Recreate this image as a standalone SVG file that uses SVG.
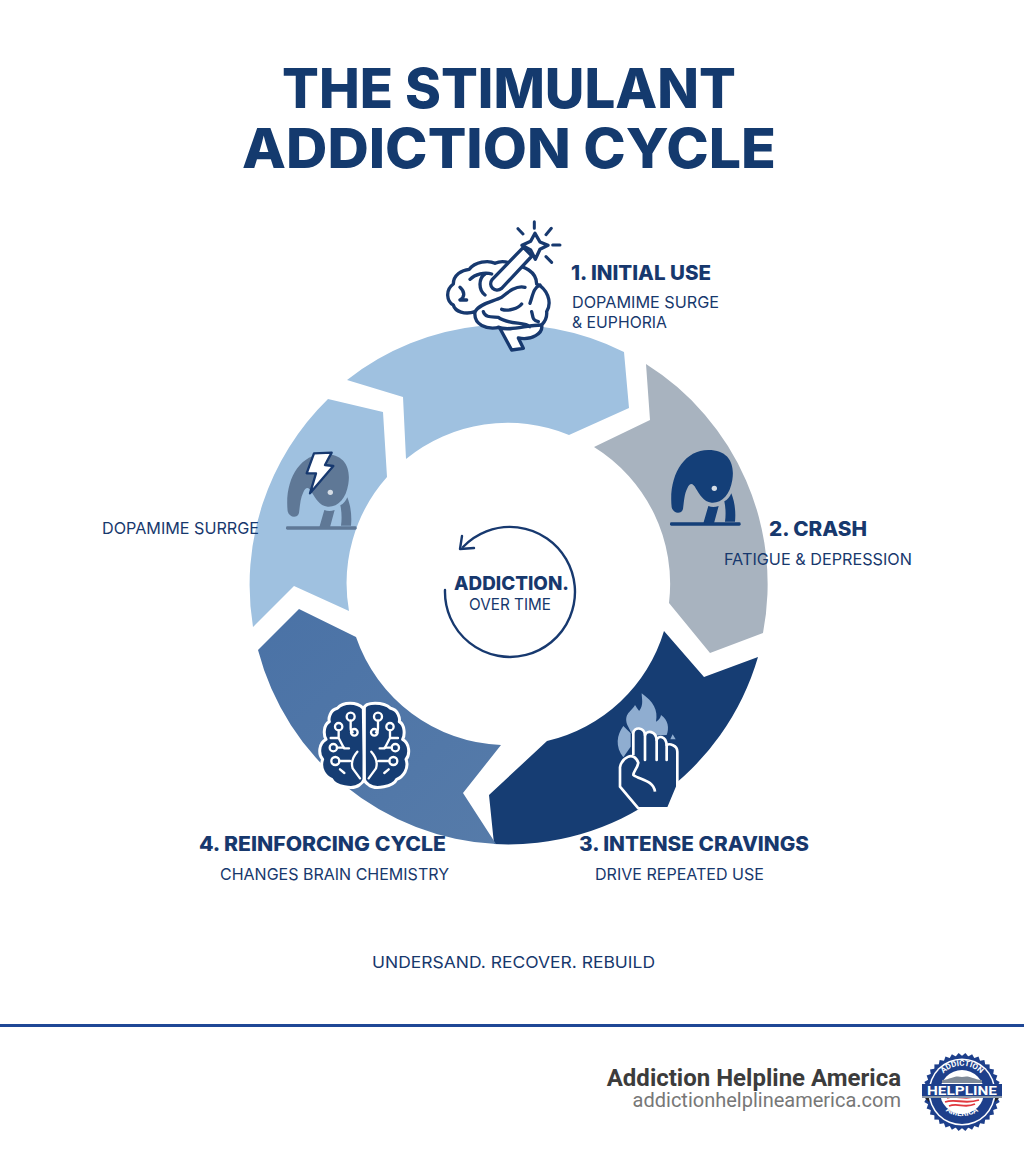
<svg xmlns="http://www.w3.org/2000/svg" xmlns:xlink="http://www.w3.org/1999/xlink" width="1024" height="1154" viewBox="0 0 1024 1154">
<style>
text{font-family:"Inter","Liberation Sans",sans-serif;fill:#17386d}
.t{font-size:55px;font-weight:800;fill:#143a6e}
.h{font-size:20px;font-weight:800}
.s{font-size:16.5px;font-weight:400}
.ln{fill:none;stroke:#17396f;stroke-linecap:round;stroke-linejoin:round}
.wl{fill:none;stroke:#fff;stroke-width:8;stroke-linecap:round;stroke-linejoin:round}
.f{font-family:"Roboto","Liberation Sans",sans-serif}
</style>
<defs>
<linearGradient id="g4" x1="0" y1="0" x2="1" y2="1"><stop offset="0" stop-color="#4a72a6"/><stop offset="1" stop-color="#567ba9"/></linearGradient>
<rect id="sq" x="-27.6" y="-27.6" width="55.2" height="55.2"/>
<g id="ele">
<path d="M95 232C85 140 130 60 205 60C265 60 285 100 277 150C270 195 245 220 215 218C190 215 178 192 168 176C158 158 150 158 142 175C133 192 132 215 129 237C124 254 100 252 95 232Z"/>
<path d="M205 228C215 232 225 232 236 228L222 280H190ZM253 214C262 210 270 200 274 190C284 215 288 245 285 275H255C258 255 257 232 253 214Z"/>
<rect x="90" y="277" width="212" height="10" rx="4"/>
</g>
<g id="cir">
<circle cx="152" cy="110" r="12"/><path d="M152 122V145Q152 155 158 157"/><circle cx="163" cy="157" r="10"/>
<circle cx="116" cy="140" r="11"/><path d="M116 151V174H92M116 174L132 205H147"/><circle cx="100" cy="203" r="11"/><path d="M111 203H132"/>
<circle cx="106" cy="243" r="12"/><path d="M118 243H150M172 215Q150 240 158 265L180 295M120 268L133 279"/>
</g>
</defs>
<rect width="1024" height="1154" fill="#fff"/>
<g id="title">
<text class="t" x="282" y="108" textLength="454" lengthAdjust="spacingAndGlyphs">THE STIMULANT</text>
<text class="t" x="242" y="168" textLength="534" lengthAdjust="spacingAndGlyphs">ADDICTION CYCLE</text>
</g>
<g id="connectors">
<path id="seg1" fill="#9fc1e0" d="M347 380A260 260 0 0 1 624 352L629 408L569 435A161 161 0 0 0 406 459L403 397Z"/>
<path id="seg2" fill="#a8b3bf" d="M646 364A260 260 0 0 1 763 633L710 653L669 603A161 161 0 0 0 594 447L650 420Z"/>
<path id="seg3" fill="#163d73" d="M664 631L704 677L758 657A260 260 0 0 1 494 844L489 795L547 741A160 160 0 0 0 664 631Z"/>
<path id="seg4" fill="url(#g4)" d="M258 650L299 609L356 637A160 160 0 0 0 501 745L463 793L496 844A260 260 0 0 1 258 650Z"/>
<path id="seg5" fill="#9fc1e0" d="M328 399L383 412L387 477A160 160 0 0 0 349 611L294 586L253 627A260 260 0 0 1 328 399Z"/>
</g>
<g id="node1">
<g transform="translate(430 210) scale(.3333)">
<path fill="#fff" stroke="#17396f" stroke-width="10" stroke-linejoin="round" d="M135 305C105 315 75 305 70 285C50 275 45 240 70 222C70 195 95 180 118 178C135 155 175 150 195 160C215 150 240 155 250 168C280 165 320 185 320 222C350 235 368 275 350 305C352 325 340 340 335 345C340 370 305 392 265 384L280 415L245 420L208 352C170 360 130 345 135 305Z"/>
<path class="ln" stroke-width="10" d="M120 208C135 192 165 185 185 192M165 192C145 205 145 240 165 255M90 232C105 245 105 262 90 270H110M135 305C150 280 190 275 215 262C235 245 260 225 285 232M215 298C235 305 265 295 275 282M300 280C310 250 310 235 330 225M305 305C310 320 305 330 325 335M160 305C165 325 190 320 205 322C235 345 285 335 300 350M205 352C240 365 290 345 335 345"/>
<path fill="#fff" stroke="#17396f" stroke-width="10" stroke-linejoin="round" d="M187 208L280 112L306 138L215 235C195 250 172 228 187 208Z"/>
<path fill="#fff" stroke="#17396f" stroke-width="10" stroke-linejoin="round" d="M315 70L330 96L354 106L330 118L316 148L302 120L276 106L302 94Z"/>
<path class="ln" stroke-width="9" d="M313 35V55M264 56L279 72M364 55L348 74M368 105H390M348 140L365 157"/>
</g>
<text class="h" x="571" y="280" textLength="140" lengthAdjust="spacingAndGlyphs">1. INITIAL USE</text>
<text class="s" x="572" y="308" textLength="147" lengthAdjust="spacingAndGlyphs">DOPAMIME SURGE</text>
<text class="s" x="572" y="328" textLength="95" lengthAdjust="spacingAndGlyphs">&amp; EUPHORIA</text>
</g>
<g id="node2">
<g transform="translate(640 430) scale(.3333)" fill="#143f78"><use xlink:href="#ele" href="#ele"/><circle cx="223" cy="175" r="8" fill="#d6dde5"/></g>
<text class="h" x="769" y="536" textLength="98" lengthAdjust="spacingAndGlyphs">2. CRASH</text>
<text class="s" x="724" y="565" textLength="188" lengthAdjust="spacingAndGlyphs">FATIGUE &amp; DEPRESSION</text>
</g>
<g id="node3">
<g transform="translate(600 680) scale(.3333)">
<path fill="#8fadd0" d="M82 135C70 100 95 95 105 75C112 85 118 95 118 92C132 75 125 55 125 40C160 65 175 90 168 125C178 120 182 112 183 105C205 120 208 145 200 165L100 170Z"/>
<path fill="#8fadd0" d="M70 138C50 165 45 200 70 232L92 200V160ZM218 163L227 178H211Z"/>
<path fill="#163d73" stroke="#fff" stroke-width="8" stroke-linejoin="round" d="M100 225V160C102 140 132 140 135 165C140 150 168 152 170 180C175 165 198 168 200 195C208 190 232 195 232 215V320L205 385H115L60 320V262C65 235 100 210 115 248C112 265 100 275 100 285C120 300 160 300 165 335"/>
<path class="wl" d="M135 165V240M170 180V240M200 195V240"/>
</g>
<text class="h" x="579" y="851" textLength="230" lengthAdjust="spacingAndGlyphs">3. INTENSE CRAVINGS</text>
<text class="s" x="595" y="880" textLength="169" lengthAdjust="spacingAndGlyphs">DRIVE REPEATED USE</text>
</g>
<g id="node4">
<g transform="translate(300 680) scale(.3333)">
<path fill="#163d73" stroke="#fff" stroke-width="9" stroke-linejoin="round" d="M190 85C170 65 130 65 112 85C90 90 85 115 88 125C70 135 70 165 78 178C55 190 55 225 68 238C58 265 75 290 95 298C105 320 160 330 178 315C186 310 190 305 192 298V85C196 65 250 65 272 85C295 90 300 115 298 125C315 135 315 165 308 178C330 190 330 225 318 238C328 265 310 290 290 298C280 320 225 330 207 315C198 310 194 305 193 298Z"/>
<path stroke="#fff" stroke-width="8" fill="none" d="M193 82V300"/>
<g fill="none" stroke="#fff" stroke-width="7" stroke-linecap="round" stroke-linejoin="round"><use xlink:href="#cir" href="#cir"/><g transform="translate(386 0) scale(-1 1)"><use xlink:href="#cir" href="#cir"/></g></g>
</g>
<text class="h" x="199" y="851" textLength="247" lengthAdjust="spacingAndGlyphs">4. REINFORCING CYCLE</text>
<text class="s" x="220" y="880" textLength="229" lengthAdjust="spacingAndGlyphs">CHANGES BRAIN CHEMISTRY</text>
</g>
<g id="node5">
<g transform="translate(256 434) scale(.3333)" fill="#5f7896"><use xlink:href="#ele" href="#ele"/><circle cx="223" cy="175" r="8" fill="#d6dde5"/></g>
<g transform="translate(240 430) scale(.3333)"><path fill="#fff" stroke="#17396f" stroke-width="7" stroke-linejoin="round" d="M222 70L275 68L255 105L280 108L210 190L228 130L200 130Z"/></g>
<text class="s" x="102" y="534" textLength="157" lengthAdjust="spacingAndGlyphs">DOPAMIME SURRGE</text>
</g>
<g id="center">
<path class="ln" stroke-width="2.4" d="M445 590A65 65 0 1 0 463 547"/>
<path class="ln" stroke-width="2.4" d="M462 536L460 549L474 548"/>
<text x="454" y="590" font-size="19" font-weight="800" textLength="115" lengthAdjust="spacingAndGlyphs">ADDICTION.</text>
<text x="469" y="610" font-size="16.5" textLength="82" lengthAdjust="spacingAndGlyphs">OVER TIME</text>
</g>
<text id="tagline" class="s" x="372" y="968" textLength="283" lengthAdjust="spacingAndGlyphs">UNDERSAND. RECOVER. REBUILD</text>
<rect id="rule" x="0" y="1024" width="1024" height="3" fill="#1f4796"/>
<g id="footer">
<text class="f" x="901" y="1086" text-anchor="end" font-size="24" font-weight="700" style="fill:#3c3c3c">Addiction Helpline America</text>
<text class="f" x="901" y="1107" text-anchor="end" font-size="20" style="fill:#777">addictionhelplineamerica.com</text>
</g>
<g id="badge" transform="translate(962 1092)">
<g fill="#1d3f8b">
<use href="#sq"/><use href="#sq" transform="rotate(10)"/><use href="#sq" transform="rotate(20)"/><use href="#sq" transform="rotate(30)"/><use href="#sq" transform="rotate(40)"/><use href="#sq" transform="rotate(50)"/><use href="#sq" transform="rotate(60)"/><use href="#sq" transform="rotate(70)"/><use href="#sq" transform="rotate(80)"/>
<circle r="36"/></g>
<circle r="33.5" fill="#fff"/><circle r="32" fill="#1d3f8b"/><circle r="22" fill="#fff"/>
<path d="M-20 -9H20V-12C10 -13 8 -17 0 -15C-8 -17 -10 -13 -20 -12Z" fill="#7f8a98"/>
<path d="M-15 6C-6 2 2 9 15 4M-17 10C-6 6 2 13 17 8M-13 14C-4 10 2 17 13 12" fill="none" stroke="#e0383e" stroke-width="1.8"/>
<path d="M-40 3H-33V10ZM40 3H33V10Z" fill="#222"/>
<rect x="-40" y="-8" width="80" height="12" fill="#1d3f8b"/>
<rect x="-40" y="4" width="80" height="2" fill="#8b97a8"/>
<text class="f" y="2.5" x="-35" font-size="13" font-weight="700" style="fill:#fff" textLength="70" lengthAdjust="spacingAndGlyphs">HELPLINE</text>
<path id="arcT" d="M-24.5 -9A26 26 0 0 1 24.5 -9" fill="none"/>
<path id="arcB" d="M-24 12A30 30 0 0 0 24 12" fill="none"/>
<text class="f" font-size="8" font-weight="700" style="fill:#fff"><textPath href="#arcT" startOffset="50%" text-anchor="middle">ADDICTION</textPath></text>
<text class="f" font-size="8" font-weight="700" style="fill:#fff"><textPath href="#arcB" startOffset="50%" text-anchor="middle">AMERICA</textPath></text>
</g>
</svg>
